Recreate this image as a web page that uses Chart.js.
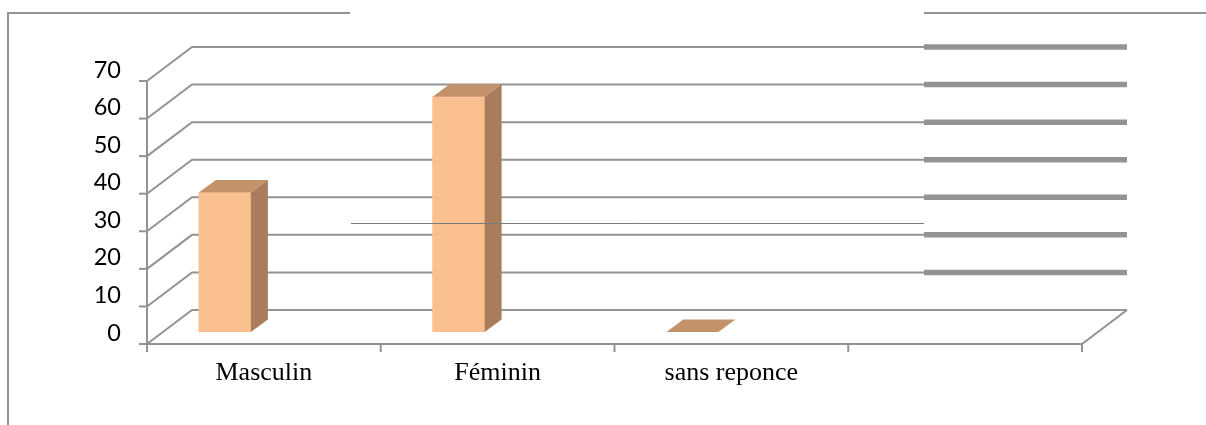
<!DOCTYPE html>
<html lang="fr">
<head>
    <meta charset="UTF-8">
    <title>Répartition selon le sexe</title>
    <script src="https://cdn.jsdelivr.net/npm/chart.js@4"></script>
    <style>
        body { margin: 0; background: #fff; }
        canvas { display: block; }
    </style>
</head>
<body>
    <canvas id="sexe-chart" width="1206" height="425"></canvas>

    <script>
        const categories = ['Masculin', 'Féminin', 'sans reponce', ''];
        const pourcentages = [37.1, 62.6, 0, null];
        const graduations = [0, 10, 20, 30, 40, 50, 60, 70];

        const couleurFace = '#FAC090';
        const couleurCote = '#A97D5B';
        const couleurDessus = '#C3916A';
        const gris = '#939393';

        // effet 3D : mur du fond, épaisseur des barres, recul des barres
        const fond = { x: 45, y: -34 };
        const epaisseur = { x: 17, y: -12.5 };
        const recul = { x: -39, y: -12 };

        const relief = {
            id: 'relief',
            beforeDatasetsDraw(chart) {
                const ctx = chart.ctx;
                const xs = chart.scales.x;
                const ys = chart.scales.y;
                const demi = (xs.getPixelForValue(1) - xs.getPixelForValue(0)) / 2;

                ctx.save();
                ctx.strokeStyle = gris;
                ctx.lineWidth = 2;

                // lignes de grille sur le mur du fond
                graduations.forEach(function(v) {
                    const py = ys.getPixelForValue(v);
                    ctx.beginPath();
                    ctx.moveTo(xs.left, py);
                    ctx.lineTo(xs.left + fond.x, py + fond.y);
                    ctx.lineTo(xs.right + fond.x, py + fond.y);
                    ctx.stroke();
                });

                // partie droite de la grille plus épaisse
                ctx.lineWidth = 5.5;
                ctx.strokeStyle = '#939393';
                graduations.slice(1).forEach(function(v) {
                    const py = ys.getPixelForValue(v) + fond.y;
                    ctx.beginPath();
                    ctx.moveTo(924, py);
                    ctx.lineTo(xs.right + fond.x, py);
                    ctx.stroke();
                });

                // plancher et axes
                ctx.lineWidth = 2;
                ctx.strokeStyle = gris;
                const y0 = ys.getPixelForValue(0);
                ctx.beginPath();
                ctx.moveTo(xs.left, y0);
                ctx.lineTo(xs.right, y0);
                ctx.lineTo(xs.right + fond.x, y0 + fond.y);
                ctx.stroke();

                ctx.beginPath();
                ctx.moveTo(xs.left, ys.getPixelForValue(70));
                ctx.lineTo(xs.left, y0);
                ctx.stroke();

                graduations.forEach(function(v) {
                    const py = ys.getPixelForValue(v);
                    ctx.beginPath();
                    ctx.moveTo(xs.left - 8, py);
                    ctx.lineTo(xs.left, py);
                    ctx.stroke();
                });
                for (let i = 0; i <= categories.length; i++) {
                    const px = xs.getPixelForValue(0) - demi + i * 2 * demi;
                    ctx.beginPath();
                    ctx.moveTo(px, y0);
                    ctx.lineTo(px, y0 + 8);
                    ctx.stroke();
                }
                ctx.restore();

                // les barres sont posées au milieu du plancher
                ctx.save();
                ctx.translate(recul.x, recul.y);
            },
            afterDatasetsDraw(chart) {
                const ctx = chart.ctx;
                chart.getDatasetMeta(0).data.forEach(function(bar, i) {
                    if (pourcentages[i] === null) return;
                    const g = bar.x - bar.width / 2;
                    const d = bar.x + bar.width / 2;
                    const haut = bar.y;
                    const bas = bar.base;

                    ctx.fillStyle = couleurCote;
                    ctx.beginPath();
                    ctx.moveTo(d, haut);
                    ctx.lineTo(d + epaisseur.x, haut + epaisseur.y);
                    ctx.lineTo(d + epaisseur.x, bas + epaisseur.y);
                    ctx.lineTo(d, bas);
                    ctx.closePath();
                    ctx.fill();

                    ctx.fillStyle = couleurDessus;
                    ctx.beginPath();
                    ctx.moveTo(g, haut);
                    ctx.lineTo(g + epaisseur.x, haut + epaisseur.y);
                    ctx.lineTo(d + epaisseur.x, haut + epaisseur.y);
                    ctx.lineTo(d, haut);
                    ctx.closePath();
                    ctx.fill();
                });
                ctx.restore();
            },
            afterDraw(chart) {
                const ctx = chart.ctx;
                ctx.save();
                // cadre extérieur
                ctx.strokeStyle = gris;
                ctx.lineWidth = 2;
                ctx.beginPath();
                ctx.moveTo(8, 425);
                ctx.lineTo(8, 13);
                ctx.lineTo(350, 13);
                ctx.moveTo(924, 13);
                ctx.lineTo(1206, 13);
                ctx.stroke();

                ctx.strokeStyle = '#7a7a7a';
                ctx.lineWidth = 1;
                ctx.beginPath();
                ctx.moveTo(351, 223.5);
                ctx.lineTo(924, 223.5);
                ctx.stroke();
                ctx.restore();
            }
        };

        const chart = new Chart(document.getElementById('sexe-chart'), {
            type: 'bar',
            data: {
                labels: categories,
                datasets: [{
                    label: 'Sexe',
                    data: pourcentages,
                    backgroundColor: couleurFace,
                    borderWidth: 0,
                    barThickness: 52
                }]
            },
            options: {
                responsive: false,
                animation: false,
                layout: { padding: { top: 81, right: 124, left: 0, bottom: 0 } },
                plugins: {
                    legend: { display: false },
                    tooltip: { enabled: false }
                },
                scales: {
                    x: {
                        grid: { display: false, drawTicks: false },
                        border: { display: false },
                        afterFit(scale) { scale.height = 81; },
                        ticks: {
                            padding: 14,
                            color: '#000',
                            font: { family: 'Liberation Serif', size: 26 }
                        }
                    },
                    y: {
                        min: 0,
                        max: 70,
                        grid: { display: false, drawTicks: false },
                        border: { display: false },
                        afterFit(scale) { scale.width = 147; },
                        ticks: {
                            stepSize: 10,
                            padding: 26,
                            labelOffset: -11,
                            color: '#000',
                            font: { family: 'Lato', size: 23.5 }
                        }
                    }
                }
            },
            plugins: [relief]
        });
    </script>
</body>
</html>
